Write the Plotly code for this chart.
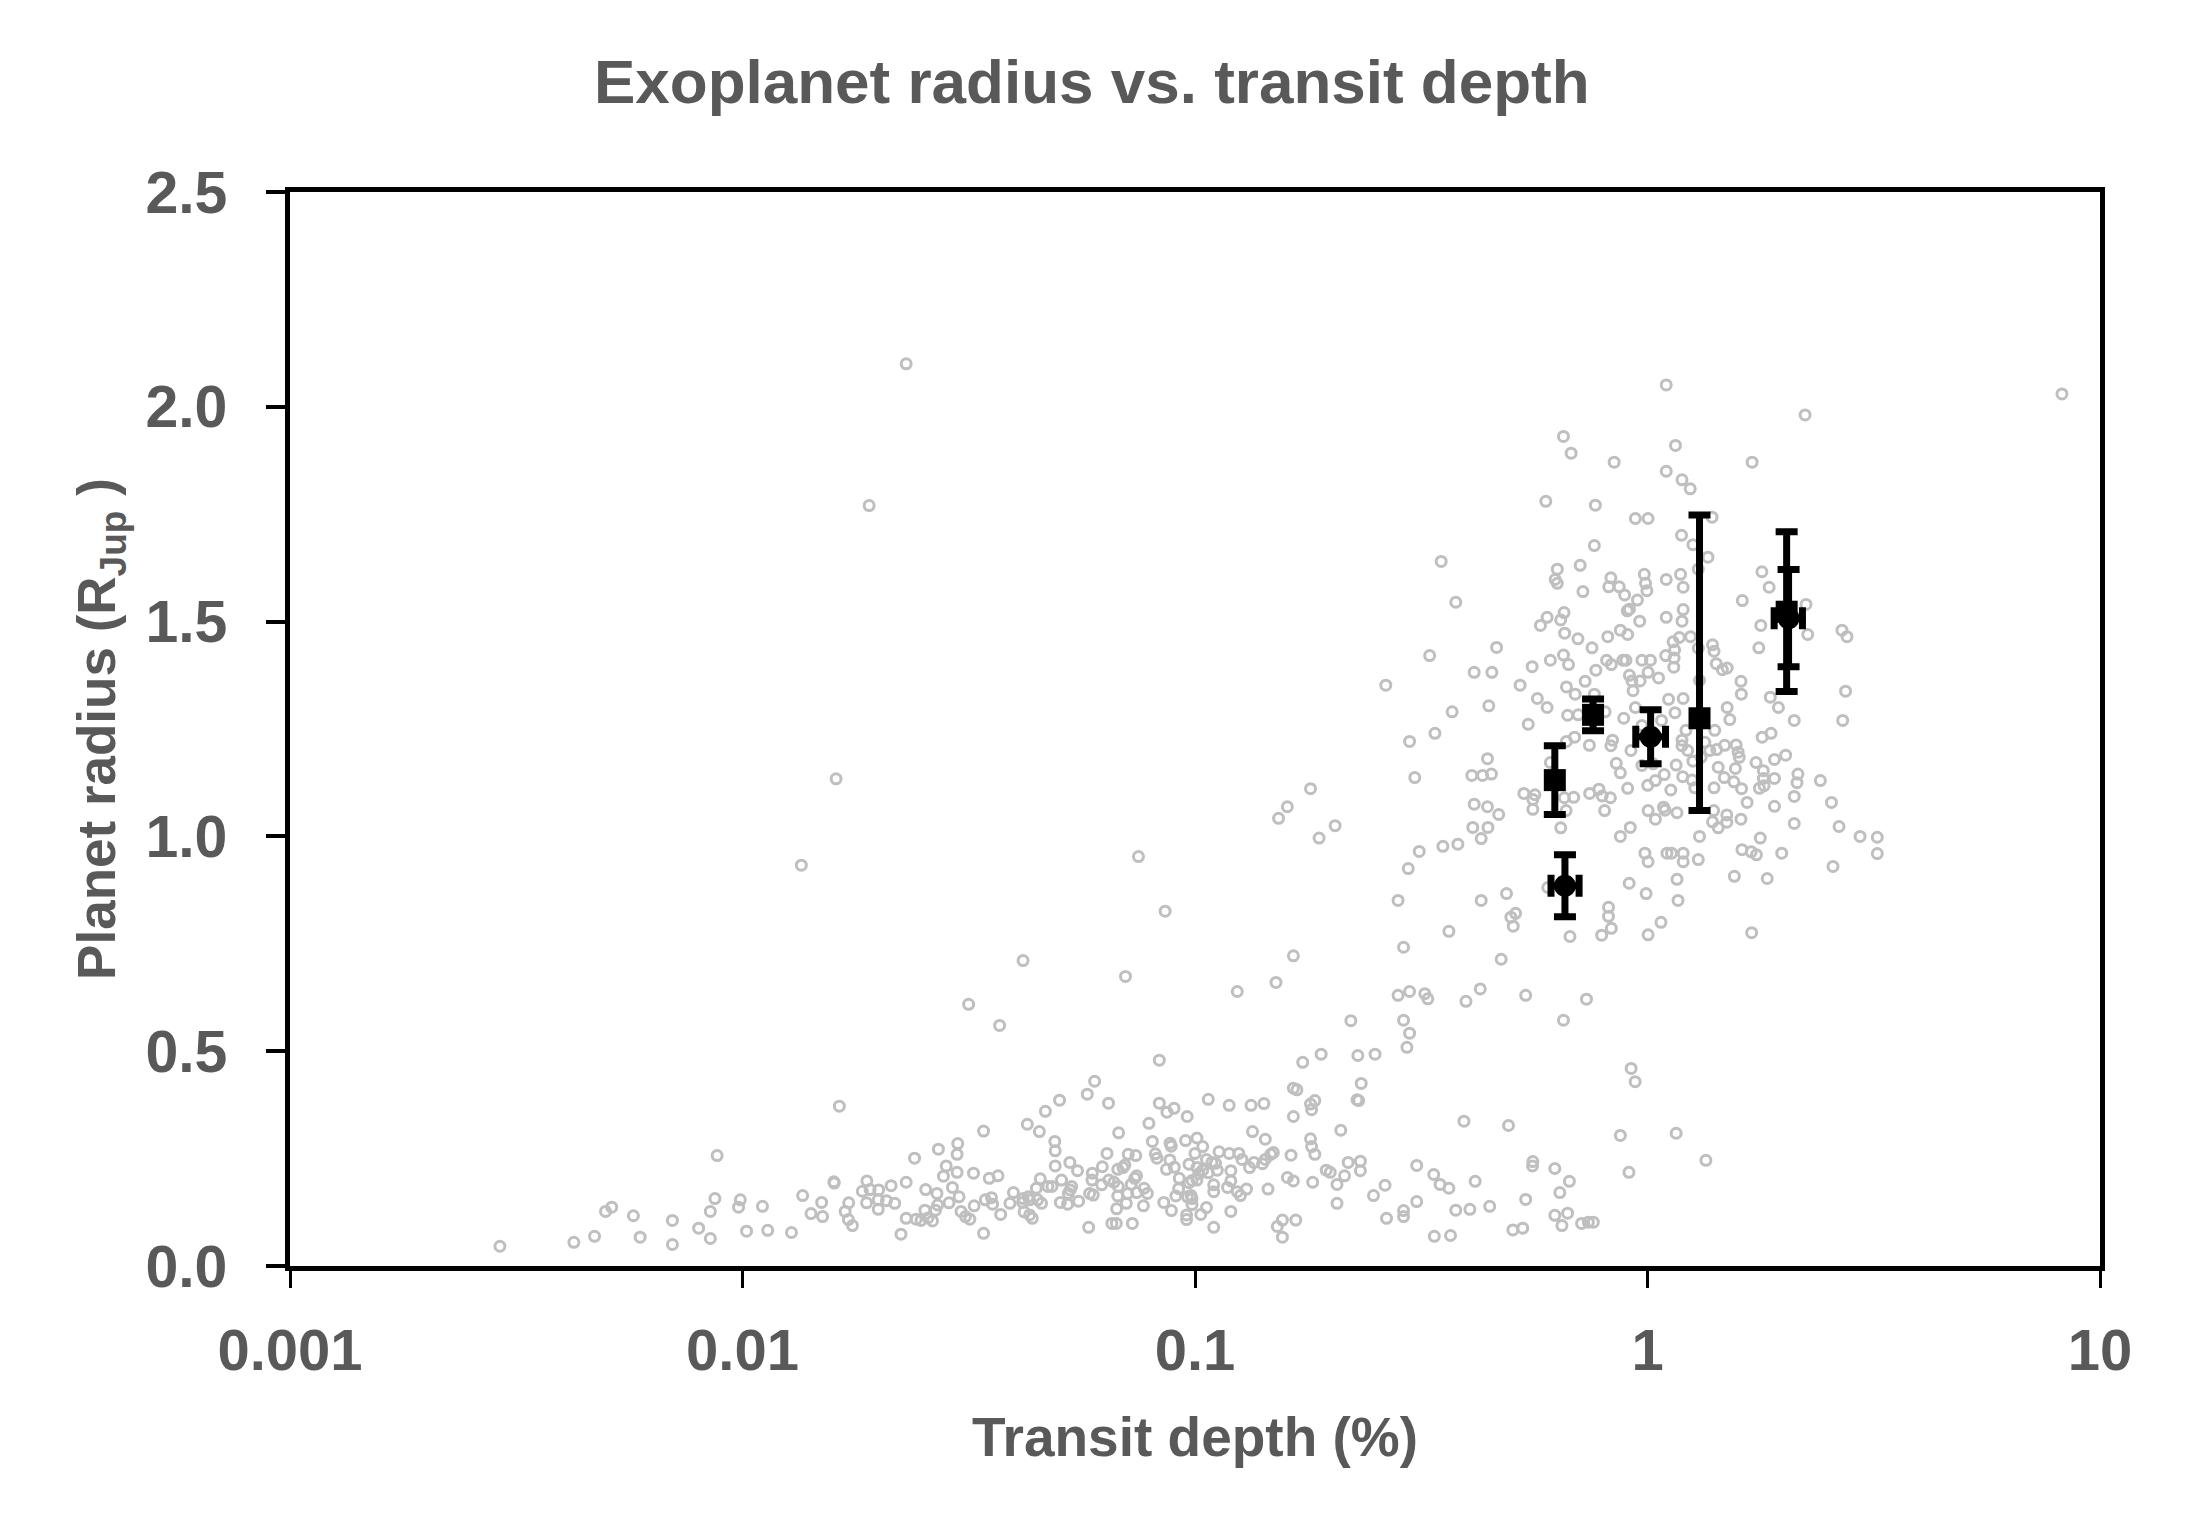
import plotly.graph_objects as go

# Catalogue planets (grey open circles)
# small planets, shallow transits
small_depth = [0.01349, 0.0316, 0.01637, 0.00879, 0.00291, 0.00424, 0.00471, 0.00498, 0.00514, 0.00574,
               0.00594, 0.0070, 0.0070, 0.0080, 0.00849, 0.00849, 0.00869, 0.0098, 0.00989, 0.01107,
               0.01021, 0.01137, 0.01283, 0.01358, 0.01417, 0.01496, 0.01503, 0.01592, 0.01595, 0.01686,
               0.01717, 0.01714, 0.0175, 0.0184, 0.01883, 0.01914, 0.0188, 0.0200, 0.01995, 0.01995,
               0.0208, 0.0213, 0.0217, 0.0224, 0.0230, 0.0230, 0.0240, 0.0242, 0.0248, 0.0253,
               0.0254, 0.0257, 0.0263, 0.0269, 0.0267, 0.0270, 0.0271, 0.0278, 0.0282, 0.0286,
               0.0291, 0.0298, 0.0299, 0.0298, 0.0301, 0.0304, 0.0311, 0.0318, 0.0324, 0.0325]
small_radius = [0.933, 0.609, 0.372, 0.257, 0.046, 0.055, 0.069, 0.127, 0.137, 0.117,
                0.067, 0.106, 0.050, 0.088, 0.064, 0.127, 0.157, 0.137, 0.154, 0.139,
                0.081, 0.083, 0.078, 0.164, 0.122, 0.148, 0.115, 0.196, 0.193, 0.127,
                0.147, 0.108, 0.094, 0.174, 0.198, 0.178, 0.147, 0.177, 0.154, 0.132,
                0.152, 0.187, 0.146, 0.074, 0.195, 0.111, 0.251, 0.109, 0.106, 0.130,
                0.178, 0.112, 0.105, 0.169, 0.130, 0.142, 0.272, 0.209, 0.233, 0.147,
                0.183, 0.260, 0.285, 0.218, 0.161, 0.127, 0.115, 0.109, 0.216, 0.140]

# sub-Neptunes / Neptunes, 0.03 - 0.25 %
mid_depth = [0.0750, 0.0859, 0.0417, 0.0702, 0.0370, 0.0834, 0.124, 0.151, 0.165, 0.221,
             0.173, 0.190, 0.229, 0.250, 0.233, 0.228, 0.230, 0.165, 0.168, 0.180,
             0.184, 0.181, 0.165, 0.0600, 0.0578, 0.0644, 0.0502, 0.0467, 0.0426, 0.0453,
             0.0341, 0.0490, 0.0491, 0.0678, 0.0834, 0.0867, 0.0899, 0.0961, 0.0791, 0.107,
             0.119, 0.133, 0.142, 0.134, 0.143, 0.210, 0.180, 0.181, 0.184, 0.163]
mid_radius = [0.953, 0.826, 0.711, 0.674, 0.560, 0.479, 0.639, 0.660, 0.722, 0.571,
              0.474, 0.493, 0.490, 0.493, 0.425, 0.387, 0.385, 0.414, 0.410, 0.377,
              0.385, 0.364, 0.348, 0.430, 0.400, 0.379, 0.386, 0.360, 0.330, 0.313,
              0.314, 0.290, 0.268, 0.310, 0.379, 0.358, 0.367, 0.348, 0.332, 0.388,
              0.374, 0.374, 0.378, 0.313, 0.295, 0.316, 0.296, 0.278, 0.260, 0.258]

band_depth = [0.0805, 0.0881, 0.0886, 0.0953, 0.101, 0.104, 0.100, 0.113, 0.119, 0.125,
              0.127, 0.135, 0.141, 0.143, 0.147, 0.149, 0.106, 0.109, 0.111, 0.0970,
              0.101, 0.104, 0.107, 0.112, 0.102, 0.0985, 0.101, 0.0970, 0.0923, 0.120,
              0.120, 0.110, 0.110, 0.118, 0.124, 0.126, 0.130, 0.132, 0.145, 0.120,
              0.110, 0.0980, 0.0985, 0.0962, 0.0920, 0.0907, 0.0887, 0.0853, 0.0958, 0.0958,
              0.103, 0.106, 0.0985, 0.0865, 0.0900, 0.0880, 0.0824, 0.0817, 0.0785, 0.0769,
              0.0727, 0.0655, 0.0670, 0.0582, 0.0671, 0.0705, 0.0675, 0.0710, 0.0743, 0.0772,
              0.0736, 0.0743, 0.0723, 0.0677, 0.0662, 0.0645, 0.0675, 0.0693, 0.0700, 0.0712,
              0.0740, 0.0639, 0.0624, 0.0593, 0.0592, 0.0622, 0.0585, 0.0596, 0.0553, 0.0529,
              0.0550, 0.0507, 0.0534, 0.0525, 0.0530, 0.0504, 0.0523, 0.0491, 0.0483, 0.0473,
              0.0455, 0.0446, 0.0417, 0.0428, 0.0431, 0.0449, 0.0458, 0.0416, 0.0419, 0.0431,
              0.0437, 0.0397, 0.0390, 0.0372, 0.0355, 0.0344, 0.0357, 0.0351, 0.0367, 0.0341,
              0.160, 0.165, 0.182, 0.195, 0.199, 0.206, 0.206, 0.214, 0.218, 0.232,
              0.232, 0.167, 0.156, 0.152, 0.156, 0.248]
band_radius = [0.290, 0.286, 0.279, 0.292, 0.298, 0.278, 0.262, 0.266, 0.262, 0.262,
               0.248, 0.241, 0.238, 0.248, 0.260, 0.264, 0.248, 0.241, 0.239, 0.237,
               0.229, 0.223, 0.217, 0.223, 0.215, 0.199, 0.200, 0.194, 0.204, 0.198,
               0.222, 0.189, 0.173, 0.183, 0.173, 0.164, 0.179, 0.229, 0.179, 0.127,
               0.090, 0.164, 0.157, 0.161, 0.180, 0.163, 0.129, 0.148, 0.119, 0.108,
               0.120, 0.136, 0.143, 0.225, 0.230, 0.247, 0.251, 0.261, 0.169, 0.140,
               0.099, 0.099, 0.099, 0.090, 0.133, 0.146, 0.163, 0.169, 0.171, 0.181,
               0.204, 0.210, 0.190, 0.185, 0.195, 0.200, 0.225, 0.229, 0.235, 0.260,
               0.257, 0.262, 0.231, 0.216, 0.200, 0.189, 0.169, 0.165, 0.151, 0.241,
               0.222, 0.200, 0.185, 0.169, 0.177, 0.148, 0.144, 0.233, 0.185, 0.185,
               0.203, 0.181, 0.157, 0.161, 0.154, 0.154, 0.146, 0.148, 0.126, 0.119,
               0.111, 0.171, 0.146, 0.120, 0.159, 0.154, 0.144, 0.204, 0.210, 0.076,
               0.206, 0.198, 0.195, 0.223, 0.218, 0.190, 0.146, 0.210, 0.241, 0.244,
               0.222, 0.107, 0.107, 0.092, 0.067, 0.164]

# isolated points
odd_depth = [0.023, 1.10, 2.23, 8.24, 0.01905, 0.0161, 0.180, 0.160, 0.153, 0.204, 0.188]
odd_radius = [2.10, 2.051, 1.981, 2.030, 1.770, 1.134, 1.111, 1.069, 1.042, 1.025, 0.996]

# hot Jupiters, upper part of the cloud
giant_depth = [0.652, 1.153, 0.678, 0.844, 1.703, 1.100, 1.192, 1.243, 0.596, 0.767,
               1.389, 0.940, 1.003, 1.189, 1.260, 0.763, 0.350, 1.360, 0.632, 0.710,
               1.295, 1.790, 0.830, 0.984, 1.183, 0.625, 0.632, 1.100, 0.821, 0.866,
               0.990, 1.199, 0.997, 0.720, 1.857, 0.890, 0.950, 1.620, 0.377, 2.24,
               1.199, 0.912, 0.902, 0.654, 0.600, 0.643, 1.100, 1.192, 0.961, 0.580,
               1.780, 0.871, 0.904, 0.656, 0.702, 0.817, 2.69, 2.76, 2.26, 1.245,
               1.176, 1.139, 1.392, 0.754, 0.464, 1.403, 1.295, 1.762, 0.330, 0.652,
               1.148, 1.097, 1.145, 0.610, 0.812, 0.882, 0.896, 0.972, 1.015, 0.556,
               0.669, 0.832, 1.143, 1.419, 1.464, 1.500, 0.414, 0.453, 0.769, 1.003,
               0.912, 1.058, 0.924, 0.963, 0.728, 1.609, 0.264, 0.523, 0.662, 1.303,
               0.929, 0.692, 0.763, 1.612, 2.74, 0.571, 1.113, 1.199, 1.868, 0.446,
               0.600, 0.940, 1.500, 1.947, 0.370, 0.666, 0.703, 0.806, 1.150, 0.886,
               1.074, 1.520, 2.11, 2.70, 0.545, 0.339, 1.408, 1.216, 0.972, 1.792,
               1.875, 0.298, 0.662, 0.690, 0.837, 0.830, 0.744, 0.919, 1.192, 1.192,
               1.227, 1.339, 1.373, 1.422, 1.481, 1.570, 1.586, 1.595, 1.314, 1.260,
               0.443, 0.610, 0.853, 0.871, 0.972, 1.029, 1.157, 1.737, 1.908, 2.02,
               1.433, 1.564, 1.803, 2.15, 1.908, 1.803, 2.14, 2.41, 0.306, 0.409,
               0.432, 0.452, 1.089, 1.041, 1.196, 1.478, 1.552, 1.255, 1.810, 1.767,
               1.614, 1.126, 1.403, 1.272, 1.001, 0.904, 0.533, 0.564, 0.558, 0.745,
               0.781, 0.794, 0.828, 0.687, 0.655, 2.11]
giant_radius = [1.931, 1.910, 1.892, 1.871, 1.871, 1.850, 1.830, 1.809, 1.780, 1.771,
                1.743, 1.740, 1.740, 1.701, 1.679, 1.677, 1.640, 1.650, 1.622, 1.631,
                1.622, 1.616, 1.602, 1.610, 1.610, 1.598, 1.589, 1.598, 1.581, 1.581,
                1.589, 1.580, 1.572, 1.570, 1.580, 1.562, 1.550, 1.549, 1.545, 1.540,
                1.528, 1.529, 1.525, 1.521, 1.510, 1.504, 1.510, 1.501, 1.501, 1.491,
                1.491, 1.480, 1.470, 1.473, 1.460, 1.465, 1.480, 1.465, 1.470, 1.465,
                1.463, 1.453, 1.446, 1.439, 1.440, 1.431, 1.438, 1.439, 1.421, 1.422,
                1.434, 1.421, 1.415, 1.410, 1.410, 1.410, 1.410, 1.410, 1.410, 1.395,
                1.400, 1.400, 1.394, 1.402, 1.388, 1.392, 1.382, 1.382, 1.387, 1.382,
                1.375, 1.369, 1.362, 1.362, 1.361, 1.361, 1.352, 1.352, 1.348, 1.363,
                1.339, 1.331, 1.331, 1.331, 1.338, 1.321, 1.319, 1.321, 1.324, 1.304,
                1.300, 1.300, 1.300, 1.300, 1.290, 1.282, 1.283, 1.290, 1.288, 1.275,
                1.270, 1.272, 1.270, 1.270, 1.261, 1.240, 1.247, 1.247, 1.258, 1.231,
                1.240, 1.221, 1.221, 1.231, 1.224, 1.211, 1.212, 1.200, 1.224, 1.211,
                1.200, 1.219, 1.200, 1.202, 1.212, 1.213, 1.196, 1.184, 1.184, 1.175,
                1.181, 1.172, 1.170, 1.148, 1.165, 1.169, 1.166, 1.172, 1.179, 1.189,
                1.161, 1.158, 1.153, 1.145, 1.135, 1.135, 1.125, 1.130, 1.137, 1.142,
                1.142, 1.145, 1.144, 1.130, 1.139, 1.137, 1.127, 1.131, 1.118, 1.112,
                1.111, 1.108, 1.113, 1.113, 1.119, 1.112, 1.100, 1.097, 1.086, 1.100,
                1.110, 1.094, 1.090, 1.091, 1.090, 1.093]

# lower part of the giant cloud and the deep-but-small planets
lower_depth = [0.414, 0.443, 0.469, 0.558, 0.661, 0.804, 1.003, 1.085, 1.093, 1.162,
               1.400, 1.497, 1.497, 1.392, 1.433, 1.609, 1.660, 1.908, 2.55, 2.11,
               2.65, 2.95, 3.22, 3.22, 2.57, 1.775, 1.303, 0.871, 0.916, 1.041,
               0.643, 0.411, 0.444, 0.429, 0.353, 0.381, 0.313, 0.296, 0.281, 0.429,
               0.488, 0.602, 0.511, 0.499, 0.505, 0.364, 0.289, 0.475, 0.674, 0.820,
               0.820, 0.832, 0.792, 1.003, 1.071, 1.168, 0.993, 0.911, 1.162, 0.987,
               1.003, 1.104, 1.130, 1.199, 1.199, 1.295, 1.617, 1.695, 1.741, 1.98,
               1.556, 1.839, 1.699, 0.281, 0.298, 0.322, 0.327, 0.397, 0.427, 0.538,
               0.733, 0.289, 0.298, 0.294, 0.652, 0.920, 0.939, 0.393, 0.493, 0.871,
               1.157, 1.346, 0.309, 0.337, 0.348, 0.364, 0.416, 0.263, 0.558, 0.557,
               0.624, 0.910, 0.672, 0.640, 0.538, 0.309, 0.265, 0.289, 0.289, 0.377,
               0.405, 0.448, 0.338, 0.367, 0.504, 0.530, 0.624, 0.666, 0.647, 0.715,
               0.740, 0.759]
lower_radius = [1.075, 1.069, 1.051, 1.063, 1.060, 1.060, 1.060, 1.068, 1.061, 1.055,
                1.060, 1.050, 1.033, 1.034, 1.020, 1.040, 1.079, 1.070, 1.079, 1.030,
                1.023, 1.000, 0.998, 0.960, 0.930, 0.996, 1.000, 1.000, 1.021, 1.040,
                1.020, 1.021, 1.021, 0.995, 0.977, 0.982, 0.965, 0.925, 0.851, 0.851,
                0.867, 0.881, 0.821, 0.812, 0.791, 0.779, 0.742, 0.714, 0.767, 0.835,
                0.814, 0.786, 0.770, 0.771, 0.800, 0.851, 0.867, 0.891, 0.900, 0.961,
                0.941, 0.961, 0.961, 0.961, 0.941, 0.946, 0.969, 0.964, 0.957, 0.961,
                0.907, 0.902, 0.776, 0.630, 0.639, 0.634, 0.622, 0.616, 0.645, 0.630,
                0.621, 0.572, 0.542, 0.509, 0.572, 0.460, 0.429, 0.337, 0.327, 0.304,
                0.309, 0.246, 0.234, 0.213, 0.190, 0.181, 0.197, 0.188, 0.243, 0.233,
                0.227, 0.218, 0.197, 0.171, 0.155, 0.150, 0.111, 0.129, 0.115, 0.130,
                0.132, 0.139, 0.069, 0.071, 0.084, 0.088, 0.118, 0.123, 0.094, 0.099,
                0.102, 0.102]

# Highlighted planets with error bars
sq_depth = [0.624, 0.758, 1.303, 2.03]
sq_radius = [1.131, 1.283, 1.275, 1.523]
sq_err_up = [0.080, 0.037, 0.473, 0.186]
sq_err_down = [0.080, 0.037, 0.215, 0.186]

dot_depth = [1.016, 2.05, 0.657]
dot_radius = [1.232, 1.508, 0.885]
dot_rerr = [0.063, 0.113, 0.072]
dot_derr_up = [0.080, 0.150, 0.049]
dot_derr_down = [0.074, 0.145, 0.045]

x_ticks = [0.001, 0.01, 0.1, 1, 10]
x_labels = ["0.001", "0.01", "0.1", "1", "10"]

TEXT = "#595959"
FONT = "Liberation Sans, Arial, sans-serif"

all_depth = small_depth + mid_depth + band_depth + odd_depth + giant_depth + lower_depth
all_radius = small_radius + mid_radius + band_radius + odd_radius + giant_radius + lower_radius

fig = go.Figure()

fig.add_trace(go.Scatter(
    x=all_depth, y=all_radius, mode="markers",
    marker=dict(symbol="circle-open", size=10, color="#BFBFBF", line=dict(width=3)),
    hoverinfo="x+y",
))

fig.add_trace(go.Scatter(
    x=sq_depth, y=sq_radius, mode="markers",
    marker=dict(symbol="square", size=22, color="black"),
    error_y=dict(type="data", symmetric=False, array=sq_err_up, arrayminus=sq_err_down,
                 color="black", thickness=7, width=11),
))

fig.add_trace(go.Scatter(
    x=dot_depth, y=dot_radius, mode="markers",
    marker=dict(symbol="circle", size=22, color="black"),
    error_y=dict(type="data", array=dot_rerr, color="black", thickness=7, width=11),
    error_x=dict(type="data", symmetric=False, array=dot_derr_up, arrayminus=dot_derr_down,
                 color="black", thickness=7, width=11),
))

# the page body adds an 8px offset, so the margins are shifted by that much
fig.update_layout(
    width=2185, height=1534,
    margin=dict(l=282, r=93, t=184, b=276),
    paper_bgcolor="white", plot_bgcolor="white",
    showlegend=False,
    font=dict(family=FONT, color=TEXT, size=56),
    title=dict(text="Exoplanet radius vs. transit depth", x=0.496, xanchor="center",
               y=0.952, yanchor="middle", yref="container",
               font=dict(family=FONT, size=62, color=TEXT, weight="bold")),
)

fig.update_xaxes(
    type="log", range=[-3, 1],
    tickmode="array", tickvals=x_ticks, ticktext=x_labels,
    ticks="outside", ticklen=17, tickwidth=3, tickcolor="black",
    showline=True, linewidth=4.5, linecolor="black", mirror=True,
    showgrid=False, zeroline=False,
    tickfont=dict(family=FONT, size=58, color=TEXT, weight="bold"),
    ticklabelstandoff=13,
    title=dict(text="Transit depth (%)", standoff=38,
               font=dict(family=FONT, size=55, color=TEXT, weight="bold")),
)

fig.update_yaxes(
    range=[0, 2.5], dtick=0.5, tickformat=".1f",
    ticks="outside", ticklen=19, tickwidth=4, tickcolor="black",
    showline=True, linewidth=4.5, linecolor="black", mirror=True,
    showgrid=False, zeroline=False,
    tickfont=dict(family=FONT, size=59, color=TEXT, weight="bold"),
    ticklabelstandoff=27,
    title=dict(text="Planet radius (R<sub>Jup</sub> )", standoff=14,
               font=dict(family=FONT, size=53, color=TEXT, weight="bold")),
)

fig.write_html("out.html")
